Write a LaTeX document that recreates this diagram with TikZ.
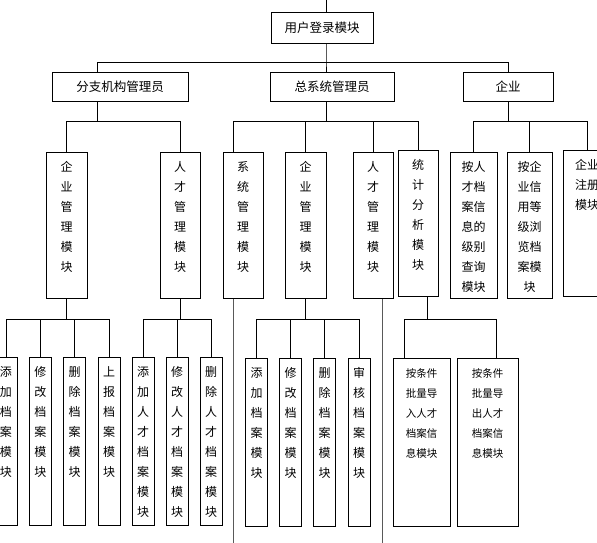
\documentclass[tikz,border=0pt]{standalone}
\usepackage{fontspec}
\newfontfamily\cjk{Noto Sans CJK SC}
\begin{document}
\begin{tikzpicture}[x=1pt,y=-1pt,
  hbox/.style={draw, line width=0.9pt, font=\cjk\fontsize{12.5}{15}\selectfont, minimum height=29pt, inner sep=0pt},
  vbox/.style={draw, line width=0.9pt, font=\cjk\fontsize{12}{20}\selectfont, align=center, inner sep=0pt, text height=19.5pt, anchor=north},
  tall/.style={vbox, text depth=126.5pt},
  leaf/.style={vbox, text depth=148.5pt, text width=22pt},
  small/.style={font=\cjk\fontsize{10.5}{20}\selectfont},
  link/.style={line width=0.9pt},
  longlink/.style={line width=0.9pt, black!65}]

\clip (0,0) rectangle (597,542);
\fill[white] (0,0) rectangle (597,542);

% top
\coordinate (entry) at (326,-5);
\coordinate (floor) at (0,548);
\node[hbox, minimum width=102pt, minimum height=31pt] (login) at (322,27.5) {用户登录模块};

% first level
\node[hbox, minimum width=136pt] (branch) at (120,86.5) {分支机构管理员};
\node[hbox, minimum width=124pt] (sysadm) at (332,86.5) {总系统管理员};
\node[hbox, minimum width=90pt] (firm) at (508,86.5) {企业};

\coordinate (b1) at (97,62);
\coordinate (c1) at (326,62);
\draw[link] (entry) -- (entry |- login.north);
\draw[link] (login.south -| c1) -- (c1) -- (c1 |- sysadm.north);
\draw[link] (b1 |- branch.north) -- (b1) -- (b1 -| firm.north) -- (firm.north);

% second level
\node[tall, text width=41pt] (ent1) at (66.5,152) {企\\业\\管\\理\\模\\块};
\node[tall, text width=40pt] (tal1) at (180,152) {人\\才\\管\\理\\模\\块};
\node[tall, text width=40pt] (sysm) at (243,152) {系\\统\\管\\理\\模\\块};
\node[tall, text width=41pt] (ent2) at (305.5,152) {企\\业\\管\\理\\模\\块};
\node[tall, text width=40pt] (tal2) at (373,152) {人\\才\\管\\理\\模\\块};
\node[tall, text width=40pt] (stat) at (418,150) {统\\计\\分\\析\\模\\块};
\node[tall, text width=47pt] (query) at (473.5,152) {按人\\才档\\案信\\息的\\级别\\查询\\模块};
\node[tall, text width=45pt] (browse) at (529.5,152) {按企\\业信\\用等\\级浏\\览档\\案模\\块};
\node[tall, text width=47pt] (reg) at (587,150) {企业\\注册\\模块};

\coordinate (b2a) at (97,121);
\coordinate (b2b) at (233,121);
\draw[link] (branch.south -| b2a) -- (b2a);
\draw[link] (ent1.north) |- (tal1.north |- b2a) -- (tal1.north);
\draw[link] (sysadm.south -| c1) -- (c1 |- b2b);
\draw[link] (sysm.north -| b2b) -- (b2b) -- (b2b -| stat.north) -- (stat.north);
\draw[link] (ent2.north) -- (ent2.north |- b2b);
\draw[link] (tal2.north) -- (tal2.north |- b2b);
\draw[link] (firm.south) -- (firm.south |- b2b);
\draw[link] (query.north) |- (reg.north |- b2b) -- (reg.north);
\draw[link] (browse.north) -- (browse.north |- b2b);

% third level
\node[leaf] (a1) at (6,357) {添\\加\\档\\案\\模\\块};
\node[leaf] (a2) at (40.5,357) {修\\改\\档\\案\\模\\块};
\node[leaf] (a3) at (74.5,357) {删\\除\\档\\案\\模\\块};
\node[leaf] (a4) at (109,357) {上\\报\\档\\案\\模\\块};
\node[leaf] (t1) at (143,357) {添\\加\\人\\才\\档\\案\\模\\块};
\node[leaf] (t2) at (177,357) {修\\改\\人\\才\\档\\案\\模\\块};
\node[leaf] (t3) at (211,357) {删\\除\\人\\才\\档\\案\\模\\块};
\node[leaf] (e1) at (256.5,358) {添\\加\\档\\案\\模\\块};
\node[leaf] (e2) at (290.5,358) {修\\改\\档\\案\\模\\块};
\node[leaf] (e3) at (324.5,358) {删\\除\\档\\案\\模\\块};
\node[leaf] (e4) at (359,358) {审\\核\\档\\案\\模\\块};
\node[leaf, small, text width=57pt] (imp) at (421.5,358) {按条件\\批量导\\入人才\\档案信\\息模块};
\node[leaf, small, text width=61pt] (exp) at (487.5,358) {按条件\\批量导\\出人才\\档案信\\息模块};

\coordinate (b3) at (0,319);
\coordinate (c2) at (382,0);
\coordinate (c3) at (427,319);
\coordinate (c4) at (404,319);
\coordinate (c5) at (496,319);
\draw[link] (ent1.south) -- (ent1.south |- b3);
\draw[link] (a1.north) |- (a4.north |- b3) -- (a4.north);
\draw[link] (a2.north) -- (a2.north |- b3);
\draw[link] (a3.north) -- (a3.north |- b3);
\draw[link] (tal1.south) -- (tal1.south |- b3);
\draw[link] (t1.north) |- (t3.north |- b3) -- (t3.north);
\draw[link] (t2.north) -- (t2.north |- b3);
\draw[longlink] (sysm.south -| b2b) -- (b2b |- floor);
\draw[link] (ent2.south) -- (ent2.south |- b3);
\draw[link] (e1.north) |- (e4.north |- b3) -- (e4.north);
\draw[link] (e2.north) -- (e2.north |- b3);
\draw[link] (e3.north) -- (e3.north |- b3);
\draw[longlink] (tal2.south -| c2) -- (c2 |- floor);
\draw[link] (stat.south -| c3) -- (c3);
\draw[link] (imp.north -| c4) -- (c4) -- (c5) -- (exp.north -| c5);

\end{tikzpicture}
\end{document}
